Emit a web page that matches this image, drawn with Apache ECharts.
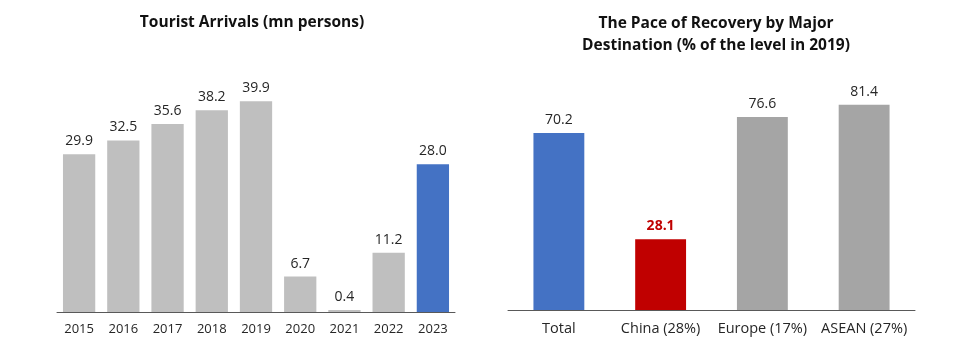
<!DOCTYPE html>
<html>
<head>
<meta charset="utf-8">
<script src="https://cdn.jsdelivr.net/npm/echarts@6/dist/echarts.min.js"></script>
<style>
  html, body { margin: 0; padding: 0; background: #fff; }
  #chart { width: 966px; height: 338px; }
</style>
</head>
<body>
<div id="chart"></div>
<script>
// Tourist arrivals, million persons
const years = ['2015', '2016', '2017', '2018', '2019', '2020', '2021', '2022', '2023'];
const arrivals = [29.9, 32.5, 35.6, 38.2, 39.9, 6.7, 0.4, 11.2, 28.0];

// Recovery by destination, % of 2019 level
const destinations = ['Total', 'China (28%)', 'Europe (17%)', 'ASEAN (27%)'];
const recovery = [70.2, 28.1, 76.6, 81.4];

const FONT = '"Open Sans", sans-serif';
const GRAY_L = '#BFBFBF';
const GRAY_R = '#A5A5A5';
const BLUE = '#4472C4';
const RED = '#C00000';
const TXT = '#262626';

const arrivalColors = years.map((y) => (y === '2023' ? BLUE : GRAY_L));
const recoveryColors = [BLUE, RED, GRAY_R, GRAY_R];

const chart = echarts.init(document.getElementById('chart'), null, { renderer: 'canvas' });

const catAxis = (idx, data, size) => ({
  type: 'category',
  gridIndex: idx,
  data: data,
  axisLine: { show: true, lineStyle: { color: '#595959', width: 1 } },
  axisTick: { show: false },
  axisLabel: { interval: 0, color: TXT, fontFamily: FONT, fontSize: size, margin: 11 }
});

const valAxis = (idx, max) => ({
  type: 'value',
  gridIndex: idx,
  min: 0,
  max: max,
  show: false,
  splitLine: { show: false }
});

const valueLabel = {
  show: true, position: 'top', distance: 6,
  color: TXT, fontFamily: FONT, fontSize: 14,
  formatter: (p) => p.value.toFixed(1)
};

chart.setOption({
  animation: false,
  title: [
    {
      text: 'Tourist Arrivals (mn persons)',
      left: 247, top: 10, textAlign: 'center',
      textStyle: { fontFamily: FONT, fontSize: 15.5, fontWeight: 'bold', color: '#111' }
    },
    {
      text: 'The Pace of Recovery by Major\nDestination (% of the level in 2019)',
      left: 711, top: 8, textAlign: 'center',
      textStyle: { fontFamily: FONT, fontSize: 15.5, fontWeight: 'bold', color: '#111', lineHeight: 22 }
    }
  ],
  grid: [
    { left: 57, width: 398, top: 48, height: 264 },
    { left: 508, width: 407, top: 58, height: 252 }
  ],
  xAxis: [catAxis(0, years, 13), catAxis(1, destinations, 14.5)],
  yAxis: [valAxis(0, 50), valAxis(1, 100)],
  series: [
    {
      type: 'bar',
      xAxisIndex: 0, yAxisIndex: 0,
      barCategoryGap: '27%',
      data: arrivals.map((v, i) => ({ value: v, itemStyle: { color: arrivalColors[i] } })),
      label: valueLabel
    },
    {
      type: 'bar',
      xAxisIndex: 1, yAxisIndex: 1,
      barCategoryGap: '50%',
      data: recovery.map((v, i) => ({
        value: v,
        itemStyle: { color: recoveryColors[i] },
        label: i === 1 ? { color: RED, fontWeight: 'bold' } : {}
      })),
      label: valueLabel
    }
  ]
});
</script>
</body>
</html>
